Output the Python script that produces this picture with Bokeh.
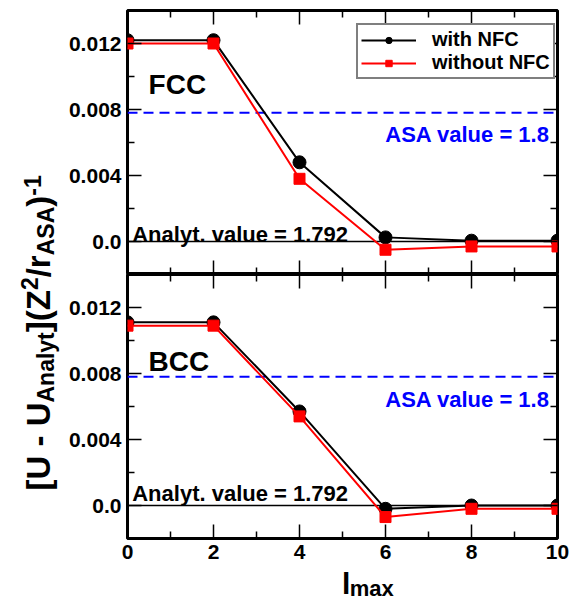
from bokeh.plotting import figure
from bokeh.models import (Range1d, FixedTicker, LinearAxis, Span, Label, Legend,
                          LegendItem, CustomJSTickFormatter)
from bokeh.layouts import row, column
from bokeh.embed import file_html
from bokeh.resources import INLINE

# ---------------- data ----------------
lmax = [0, 2, 4, 6, 8, 10]
fcc_with = [0.0122, 0.0122, 0.0048, 0.00025, 0.00005, 0.00005]
fcc_without = [0.0120, 0.0120, 0.0038, -0.0005, -0.0003, -0.0003]
bcc_with = [0.0111, 0.0111, 0.0057, -0.0002, 0.0000, 0.0000]
bcc_without = [0.0109, 0.0109, 0.0054, -0.0007, -0.0002, -0.0002]

asa_value = 0.0078
analyt_value = 0.0

x_major = [0, 2, 4, 6, 8, 10]
x_minor = [1, 3, 5, 7, 9]
y_major = [0.0, 0.004, 0.008, 0.012]
y_minor = [-0.002, 0.002, 0.006, 0.010, 0.014]
x_lo, x_hi = 0, 10
y_lo, y_hi = -0.002, 0.014

FONT = "Liberation Sans"
BLUE = "#0000ff"
RED = "#ff0000"

LEFT_W = 64          # width of the y-label strip
PANEL_W = 507        # 63 + 430 + 14
TOTAL_H = 600


def style_axis(ax, labelled):
    ax.axis_line_color = None
    ax.major_tick_in = 14
    ax.major_tick_out = 0
    ax.minor_tick_in = 7
    ax.minor_tick_out = 0
    ax.major_tick_line_width = 1.5
    ax.minor_tick_line_width = 1.5
    ax.major_tick_line_color = "black"
    ax.minor_tick_line_color = "black"
    if labelled:
        ax.major_label_text_font = FONT
        ax.major_label_text_font_style = "bold"
        ax.major_label_text_font_size = "21px"
        ax.major_label_text_color = "black"
        ax.major_label_standoff = 6
    else:
        ax.formatter = CustomJSTickFormatter(code="return '';")
        ax.major_label_text_font_size = "0px"
        ax.major_label_standoff = 0


def make_panel(name, name_y, with_vals, without_vals, analyt_y, asa_txt_y,
               bottom, legend):
    top_b = 0 if bottom else 10
    bot_b = 30 if bottom else 0
    p = figure(width=PANEL_W, height=264 + top_b + bot_b,
               x_range=Range1d(x_lo, x_hi), y_range=Range1d(y_lo, y_hi),
               x_axis_type=None, y_axis_type=None,
               toolbar_location=None, output_backend="svg",
               min_border_left=63, min_border_right=14,
               min_border_top=top_b, min_border_bottom=bot_b)
    p.outline_line_color = "black"
    p.outline_line_width = 3
    p.background_fill_color = "white"
    p.border_fill_color = "white"

    for side in ["left", "right"]:
        ax = LinearAxis(ticker=FixedTicker(ticks=y_major, minor_ticks=y_minor))
        if side == "left":
            ax.formatter = CustomJSTickFormatter(
                code="return tick == 0 ? '0.0' : tick.toFixed(3);")
        style_axis(ax, side == "left")
        p.add_layout(ax, side)
    for side in ["below", "above"]:
        ax = LinearAxis(ticker=FixedTicker(ticks=x_major, minor_ticks=x_minor))
        style_axis(ax, bottom and side == "below")
        p.add_layout(ax, side)

    p.add_layout(Span(location=analyt_value, dimension="width", line_color="black",
                      line_width=1.5, level="underlay"))
    p.add_layout(Span(location=asa_value, dimension="width", line_color=BLUE,
                      line_width=2, line_dash="10 6", level="underlay"))

    l1 = p.line(lmax, with_vals, line_color="black", line_width=2)
    s1 = p.scatter(lmax, with_vals, marker="circle", size=13, fill_color="black",
                   line_color="black")
    l2 = p.line(lmax, without_vals, line_color=RED, line_width=2)
    s2 = p.scatter(lmax, without_vals, marker="square", size=11, fill_color=RED,
                   line_color=RED)

    p.add_layout(Label(x=0.49, y=name_y, text=name, text_font=FONT,
                       text_font_style="bold", text_font_size="28px",
                       text_color="black", text_baseline="alphabetic"))
    p.add_layout(Label(x=0.11, y=analyt_y, text="Analyt. value = 1.792",
                       text_font=FONT, text_font_style="bold", text_font_size="22px",
                       text_color="black", text_baseline="alphabetic"))
    p.add_layout(Label(x=9.82, y=asa_txt_y, text="ASA value = 1.8",
                       text_font=FONT, text_font_style="bold", text_font_size="22px",
                       text_color=BLUE, text_align="right",
                       text_baseline="alphabetic"))

    if legend:
        lg = Legend(items=[LegendItem(label="with NFC", renderers=[l1, s1]),
                           LegendItem(label="without NFC", renderers=[l2, s2])],
                    location=(229, 195), margin=0, padding=3, spacing=0,
                    glyph_width=55, glyph_height=16, label_height=16,
                    label_standoff=16,
                    label_text_font=FONT, label_text_font_style="bold",
                    label_text_font_size="20px", label_text_color="black",
                    border_line_color="black", border_line_width=2.5,
                    background_fill_color="white", background_fill_alpha=1.0)
        p.add_layout(lg)
    return p


top = make_panel("FCC", 0.0095, fcc_with, fcc_without, 0.00045, 0.00648,
                 bottom=False, legend=True)
bot = make_panel("BCC", 0.0087, bcc_with, bcc_without, 0.0007, 0.0064,
                 bottom=True, legend=False)

# ---------------- x label strip: l_max ----------------
XL_H = TOTAL_H - top.height - bot.height
xl = figure(width=PANEL_W, height=XL_H, x_range=Range1d(0, PANEL_W),
            y_range=Range1d(0, XL_H), x_axis_type=None, y_axis_type=None,
            toolbar_location=None, output_backend="svg", min_border=0)
xl.outline_line_color = None
xl.add_layout(Label(x=253, y=17, text="l", text_font=FONT,
                    text_font_style="bold", text_font_size="30px",
                    text_color="black", text_baseline="alphabetic"))
xl.add_layout(Label(x=262, y=12, text="max", text_font=FONT,
                    text_font_style="bold", text_font_size="22px",
                    text_color="black", text_baseline="alphabetic"))

# ---------------- rotated y label ----------------
HBW = {'[': .333, 'U': .722, ' ': .278, '-': .333, 'A': .722, 'n': .611, 'a': .556,
       'l': .278, 'y': .556, 't': .333, ']': .333, '(': .333, 'Z': .611, '2': .556,
       '/': .278, 'r': .389, 'S': .667, ')': .333, '1': .556}


def tw(s, size):
    return sum(HBW.get(c, .6) for c in s) * size


lab = figure(width=LEFT_W, height=TOTAL_H, x_range=Range1d(0, LEFT_W),
             y_range=Range1d(0, TOTAL_H), x_axis_type=None, y_axis_type=None,
             toolbar_location=None, output_backend="svg", min_border=0)
lab.outline_line_color = None
M, S = 33, 23
pieces = [("[U - U", M, 38), ("Analyt", S, 45), ("](Z", M, 38), ("2", S, 29),
          ("/r", M, 38), ("ASA", S, 45), (")", M, 38), ("-1", S, 32)]
fy = TOTAL_H - 490
for txt, size, fx in pieces:
    lab.add_layout(Label(x=fx, y=fy, text=txt, angle=90, angle_units="deg",
                         text_font=FONT, text_font_style="bold",
                         text_font_size=f"{size}px", text_color="black",
                         text_align="left", text_baseline="alphabetic"))
    fy += tw(txt, size)

layout = row(lab, column(top, bot, xl, spacing=0), spacing=0)
open("out.html", "w").write(file_html(layout, INLINE))
